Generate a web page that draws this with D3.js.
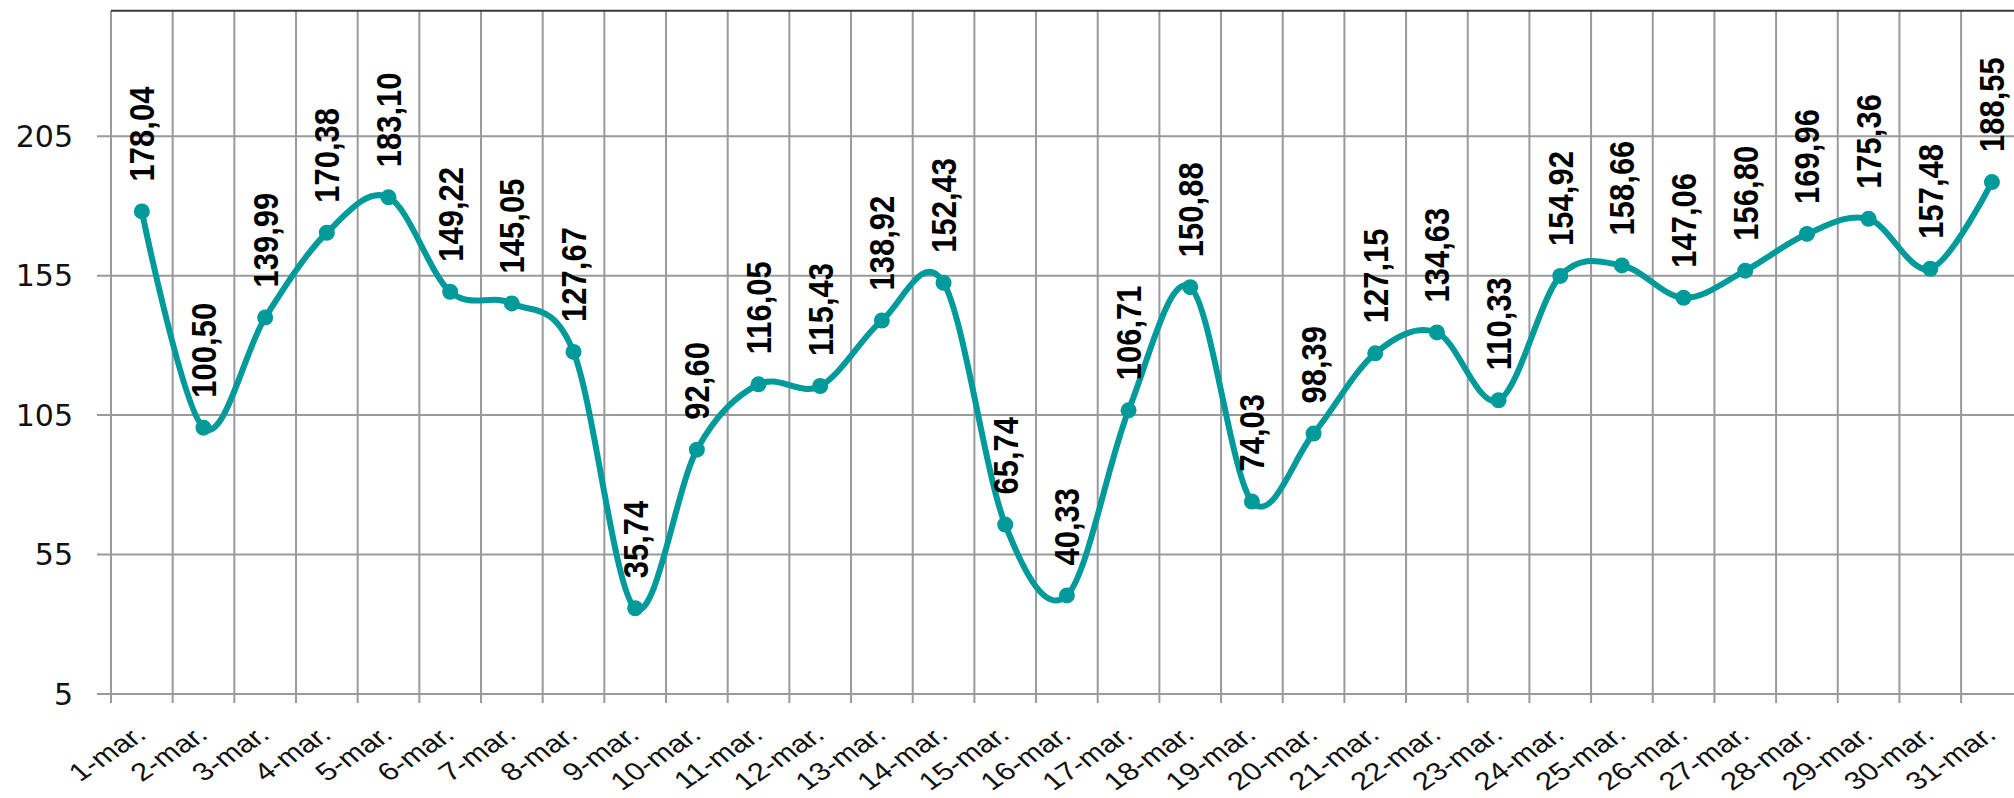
<!DOCTYPE html>
<html lang="en">
<head>
  <meta charset="UTF-8">
  <title>Marzo</title>
  <script src="https://d3js.org/d3.v7.min.js"></script>
  <style>
    body { margin: 0; background: #fff; }
    svg { display: block; background: #fff; }
    .grid line { stroke: #9a9a9a; stroke-width: 2px; }
    .ylab { font-family: "DejaVu Sans", sans-serif; font-size: 30px; fill: #111; }
    .xlab { font-family: "Liberation Sans", Arial, sans-serif; font-size: 25px; fill: #111; }
    .vlab { font-family: "Liberation Sans", Arial, sans-serif; font-size: 31px; font-weight: bold; fill: #000; }
  </style>
</head>
<body>
<svg width="2014" height="798"></svg>
<script>
const days = d3.range(1, 32).map(d => d + "-mar.");
const values = [178.04, 100.50, 139.99, 170.38, 183.10, 149.22, 145.05, 127.67, 35.74, 92.60,
  116.05, 115.43, 138.92, 152.43, 65.74, 40.33, 106.71, 150.88, 74.03, 98.39,
  127.15, 134.63, 110.33, 154.92, 158.66, 147.06, 156.80, 169.96, 175.36, 157.48, 188.55];
const yTicks = [5, 55, 105, 155, 205];

const svg = d3.select("svg");
const mLeft = 111, mTop = 10.7, mBottom = 694, step = 61.67;
const mRight = mLeft + step * days.length;

const x = d3.scaleBand().domain(days).range([mLeft, mRight]);
const y = d3.scaleLinear().domain([5, 250]).range([mBottom, mTop]);
const cx = d => x(d) + x.bandwidth() / 2;

const fmt = v => v.toFixed(2).replace(".", ",");

// grid
const grid = svg.append("g").attr("class", "grid");
grid.selectAll(".h").data(yTicks).enter().append("line")
  .attr("x1", mLeft - 14).attr("x2", mRight)
  .attr("y1", d => y(d)).attr("y2", d => y(d));
grid.selectAll(".v").data(days.concat(["end"])).enter().append("line")
  .attr("x1", d => d === "end" ? mRight : x(d))
  .attr("x2", d => d === "end" ? mRight : x(d))
  .attr("y1", mTop).attr("y2", mBottom + 9);

// top border
svg.append("line").attr("x1", mLeft).attr("x2", 2014)
  .attr("y1", mTop).attr("y2", mTop)
  .attr("stroke", "#3a3a3a").attr("stroke-width", 2);

// y labels
svg.selectAll(".ylab").data(yTicks).enter().append("text")
  .attr("class", "ylab")
  .attr("x", 73).attr("y", d => y(d))
  .attr("dy", "0.36em")
  .attr("text-anchor", "end")
  .text(d => d);

// x labels (stretched a bit sideways like the source image)
svg.selectAll(".xlab").data(days).enter().append("text")
  .attr("class", "xlab")
  .attr("text-anchor", "end")
  .attr("transform", d => `translate(${cx(d) + 6},${737}) scale(1.25,1) rotate(-40)`)
  .text(d => d);

// line
const pts = days.map((d, i) => [cx(d), y(values[i])]);
svg.append("path")
  .attr("d", d3.line().curve(d3.curveCardinal.tension(0))(pts))
  .attr("fill", "none")
  .attr("stroke", "#009a9a")
  .attr("stroke-width", 6)
  .attr("stroke-linejoin", "round");

svg.selectAll(".dot").data(pts).enter().append("circle")
  .attr("cx", d => d[0]).attr("cy", d => d[1]).attr("r", 8)
  .attr("fill", "#009a9a");

// value labels
svg.selectAll(".vlab").data(days).enter().append("text")
  .attr("class", "vlab")
  .attr("transform", (d, i) => `translate(${cx(d)},${y(values[i]) - 30}) scale(1.12,1) rotate(-90)`)
  .attr("dy", "0.36em")
  .text((d, i) => fmt(values[i]));
</script>
</body>
</html>
